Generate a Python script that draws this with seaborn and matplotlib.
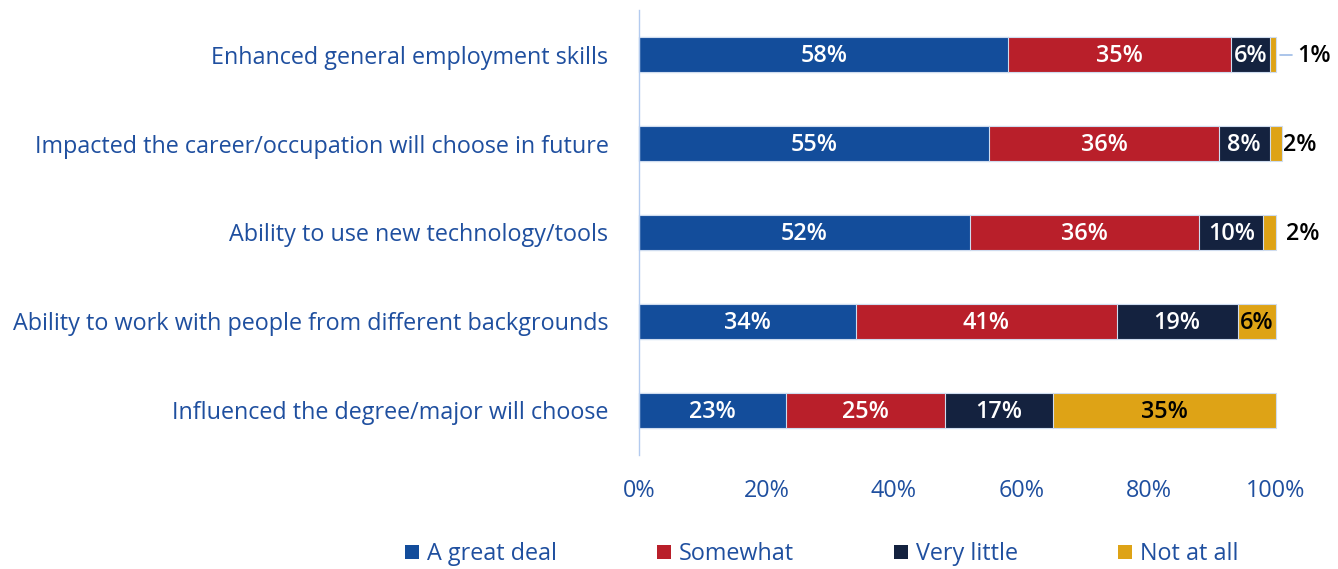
import matplotlib
matplotlib.use("Agg")
import matplotlib.pyplot as plt
from matplotlib.patches import Patch
import numpy as np
import pandas as pd
import seaborn as sns

# Survey items (top to bottom) and response shares in percent
items = [
    "Enhanced general employment skills",
    "Impacted the career/occupation will choose in future",
    "Ability to use new technology/tools",
    "Ability to work with people from different backgrounds",
    "Influenced the degree/major will choose",
]
great_deal = [58, 55, 52, 34, 23]
somewhat = [35, 36, 36, 41, 25]
very_little = [6, 8, 10, 19, 17]
not_at_all = [1, 2, 2, 6, 35]

series_names = ["A great deal", "Somewhat", "Very little", "Not at all"]
series_colors = ["#134d9b", "#b91f2a", "#14223f", "#dea316"]
label_colors = ["white", "white", "white", "black"]
x_ticks = [0, 20, 40, 60, 80, 100]
x_tick_labels = ["0%", "20%", "40%", "60%", "80%", "100%"]

text_blue = "#1f4f9f"
FS = 16.8

sns.set_theme(style="white")
plt.rcParams["font.family"] = ["Open Sans", "DejaVu Sans"]

values = np.array([great_deal, somewhat, very_little, not_at_all], dtype=float)
cum = np.cumsum(values, axis=0)
df = pd.DataFrame({"item": items})
for i, name in enumerate(series_names):
    df[name] = cum[i]

fig = plt.figure(figsize=(13.38, 5.69), dpi=100)
ax = fig.add_axes([0.4776, 0.2004, 0.476, 0.782])

# Stacked bars: draw the cumulative totals from the widest down
for i in reversed(range(len(series_names))):
    sns.barplot(data=df, x=series_names[i], y="item", orient="h", color=series_colors[i],
                width=0.4, edgecolor="#cfdcef", linewidth=0.8, saturation=1, ax=ax)
for p in ax.patches:
    p.set_clip_on(False)

# Segment value labels
for r in range(len(items)):
    for i in range(len(series_names)):
        v = values[i, r]
        start = cum[i, r] - v
        centre = start + v / 2
        label = f"{int(v)}%"
        if v >= 5:
            ax.text(centre, r + 0.02, label, ha="center", va="center", fontsize=FS,
                    fontweight="semibold", color=label_colors[i])
        else:
            end = cum[i, r]
            if r == 0:
                ax.plot([end + 0.6, end + 2.5], [r, r], color="#9dbbe6", lw=1.2,
                        clip_on=False)
                ax.text(end + 3.4, r + 0.02, label, ha="left", va="center", fontsize=FS,
                        fontweight="semibold", color="black")
            elif r == 1:
                ax.text(end + 0.1, r + 0.02, label, ha="left", va="center", fontsize=FS,
                        fontweight="semibold", color="black")
            else:
                ax.text(end + 1.6, r + 0.02, label, ha="left", va="center", fontsize=FS,
                        fontweight="semibold", color="black")

ax.set_xlim(0, 100)
ax.set_ylim(4.5, -0.5)
ax.set_xticks(x_ticks)
ax.set_xticklabels(x_tick_labels)
ax.set_xlabel("")
ax.set_ylabel("")
ax.tick_params(axis="x", length=0, pad=17, labelsize=FS, labelcolor=text_blue)
ax.tick_params(axis="y", length=0, pad=22, labelsize=FS, labelcolor=text_blue)
for side in ["top", "right", "bottom"]:
    ax.spines[side].set_visible(False)
ax.spines["left"].set_color("#b3cbef")
ax.spines["left"].set_linewidth(1.0)
ax.grid(False)

handles = [Patch(facecolor=c, edgecolor="none", label=n)
           for n, c in zip(series_names, series_colors)]
leg = fig.legend(handles=handles, loc="center", bbox_to_anchor=(0.614, 0.026), ncol=4,
                 frameon=False, fontsize=FS, handlelength=0.6, handleheight=0.6,
                 handletextpad=0.34, columnspacing=4.28)
for t in leg.get_texts():
    t.set_color(text_blue)

fig.savefig("out.png", dpi=100)
